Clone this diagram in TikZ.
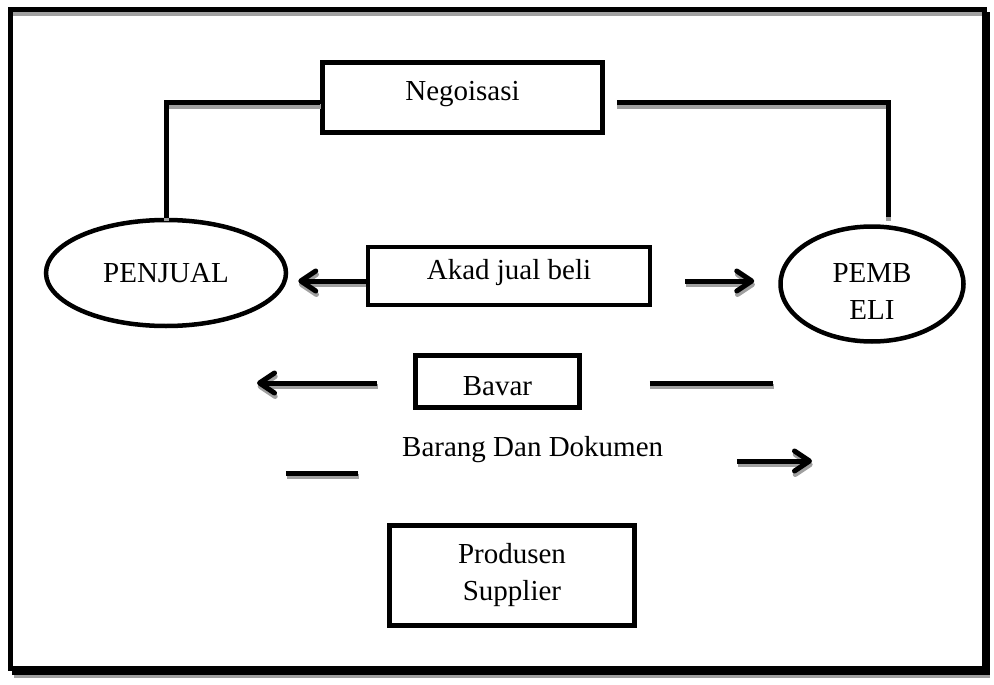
\documentclass[tikz,border=0pt]{standalone}
\usepackage{fontspec}
\setmainfont{Liberation Serif}
\usetikzlibrary{shapes.geometric,arrows.meta}
\definecolor{shadowgray}{RGB}{160,160,160}
\begin{document}
\begin{tikzpicture}[x=1pt,y=-1pt,
  font=\fontsize{29}{37}\selectfont,
  tbox/.style={draw, line width=4.5pt, rectangle, inner sep=0pt,
               text height=0.662em, text depth=0pt},
  mbox/.style={draw, line width=4.5pt, rectangle, inner sep=0pt, align=center},
  oval/.style={draw, line width=4.5pt, ellipse, inner sep=0pt},
  lbl/.style={inner sep=0pt, text height=0.662em, text depth=0pt},
  ink/.style={line width=5pt, draw=black},
  shade/.style={line width=5pt, draw=shadowgray,
                transform canvas={xshift=0.7pt,yshift=-3.5pt}},
  tipr/.style={-{Straight Barb[length=15pt,width=20pt,round]}}]
\useasboundingbox (0,0) rectangle (994,685);

% outer frame with its shadow
\draw[line width=5pt, shadowgray] (12,13.5) -- (984,13.5);
\draw[line width=5pt] (10.5,9.5) rectangle (984.5,668);
\fill (982,12) rectangle (990,675);
\fill (12,665.5) rectangle (990,675);
\fill[shadowgray] (14,675) rectangle (990,678);

% parties and boxes
\node[oval, minimum width=240pt, minimum height=106pt] (penjual) at (166,273) {PENJUAL};
\node[oval, minimum width=183pt, minimum height=115pt] (pembeli) at (872,284) {};
\node[align=center, inner sep=0pt] (pembelitext) at ([yshift=-8pt]pembeli.center) {PEMB\\ELI};

\node[tbox, minimum width=280pt, minimum height=70pt] (nego) at (462.5,97.5) {Negoisasi};
\node[tbox, minimum width=282pt, minimum height=58pt] (akad) at (509,276) {Akad jual beli};
\node[draw, line width=4.5pt, rectangle, inner sep=0pt, anchor=base,
      minimum width=164pt, text height=39.5pt, text depth=12.5pt] (bayar) at (497.5,395) {Bavar};
\node[lbl, anchor=west] (barang) at (402,453.4) {Barang Dan Dokumen};
\node[mbox, minimum width=245pt, minimum height=100pt] (produsen) at (512,575.5) {Produsen\\Supplier};

% free ends of the connectors
\coordinate (akadLtip) at ([xshift=10pt,yshift=-8pt]penjual.east);
\coordinate (akadRtail) at ([xshift=33pt,yshift=-5pt]akad.east);
\coordinate (akadRtip) at ([xshift=-24pt,yshift=3pt]pembeli.west);
\coordinate (bayarLtail) at ([xshift=-36pt,yshift=-1.5pt]bayar.west);
\coordinate (bayarLtip) at (257,383);
\coordinate (bayarRa) at ([xshift=68pt,yshift=-1.5pt]bayar.east);
\coordinate (bayarRb) at (773,383);
\coordinate (barangLa) at ([xshift=-116pt,yshift=-19.6pt]barang.west);
\coordinate (barangLb) at ([xshift=-44pt,yshift=-19.6pt]barang.west);
\coordinate (barangRtail) at (737,461);
\coordinate (barangRtip) at (812,461);
\coordinate (pembelitop) at ([xshift=16pt,yshift=7pt]pembeli.north);

% connectors, each drawn first as its grey shadow, then in black
\foreach \s in {shade,ink} {
  \draw[\s] (penjual.north) |- ([yshift=-5.5pt]nego.west);
  \draw[\s] ([xshift=12pt,yshift=-5.5pt]nego.east) -| (pembelitop);
  \draw[\s,tipr] ([yshift=-5pt]akad.west) -- (akadLtip);
  \draw[\s,tipr] (akadRtail) -- (akadRtip);
  \draw[\s,tipr] (bayarLtail) -- (bayarLtip);
  \draw[\s] (bayarRa) -- (bayarRb);
  \draw[\s] (barangLa) -- (barangLb);
  \draw[\s,tipr] (barangRtail) -- (barangRtip);
}
\end{tikzpicture}
\end{document}
